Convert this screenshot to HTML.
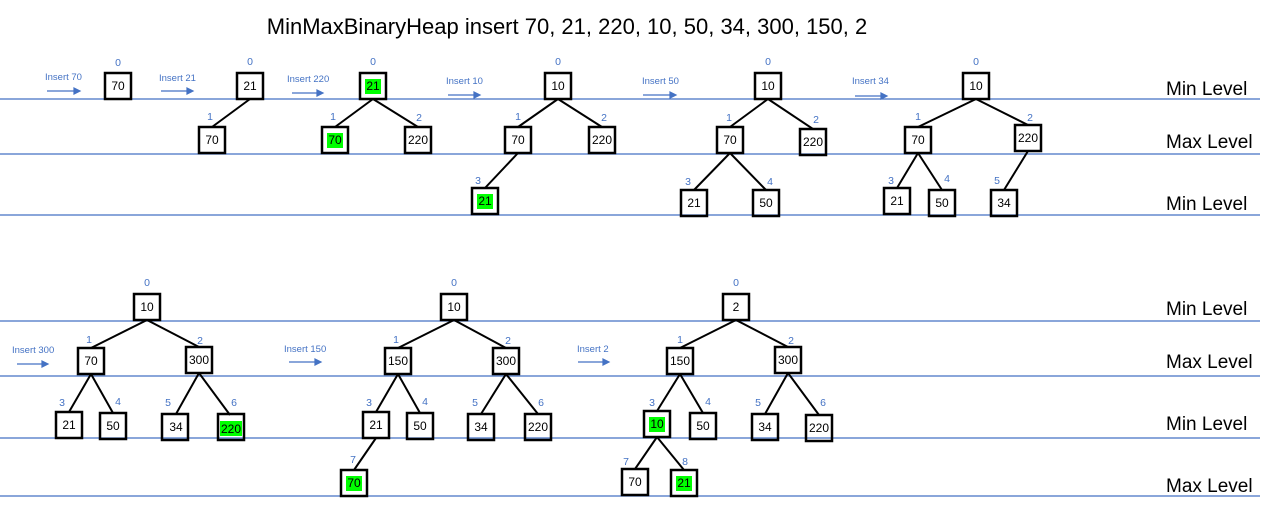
<!DOCTYPE html>
<html><head><style>body{margin:0;background:#fff}svg{display:block}</style></head><body>
<svg width="1273" height="520" xmlns="http://www.w3.org/2000/svg" font-family="Liberation Sans, sans-serif">
<rect width="1273" height="520" fill="#fff"/>
<text x="567" y="34" font-size="22" text-anchor="middle" fill="#000">MinMaxBinaryHeap insert 70, 21, 220, 10, 50, 34, 300, 150, 2</text>
<g stroke="#4472C4" stroke-width="1.2">
<line x1="0" y1="99" x2="1260" y2="99"/><line x1="0" y1="154" x2="1260" y2="154"/><line x1="0" y1="215" x2="1260" y2="215"/>
<line x1="0" y1="321" x2="1260" y2="321"/><line x1="0" y1="376" x2="1260" y2="376"/><line x1="0" y1="438" x2="1260" y2="438"/><line x1="0" y1="496" x2="1260" y2="496"/>
</g>
<g font-size="19" fill="#000">
<text x="1166" y="95">Min Level</text><text x="1166" y="148">Max Level</text><text x="1166" y="210">Min Level</text>
<text x="1166" y="315">Min Level</text><text x="1166" y="368">Max Level</text><text x="1166" y="430">Min Level</text><text x="1166" y="492">Max Level</text>
</g>
<!-- insert labels + arrows -->
<g font-size="9.5" fill="#4472C4">
<text x="45" y="80">Insert 70</text><text x="159" y="81">Insert 21</text><text x="287" y="82">Insert 220</text><text x="446" y="84">Insert 10</text><text x="642" y="84">Insert 50</text><text x="852" y="84">Insert 34</text>
<text x="12" y="353">Insert 300</text><text x="284" y="352">Insert 150</text><text x="577" y="352">Insert 2</text>
</g>
<g stroke="#4472C4" stroke-width="1.2" fill="#4472C4">
<line x1="47" y1="91" x2="74" y2="91"/><polygon points="74,88 80,91 74,94"/>
<line x1="161" y1="91" x2="187" y2="91"/><polygon points="187,88 193,91 187,94"/>
<line x1="292" y1="93" x2="317" y2="93"/><polygon points="317,90 323,93 317,96"/>
<line x1="448" y1="95" x2="474" y2="95"/><polygon points="474,92 480,95 474,98"/>
<line x1="643" y1="95" x2="670" y2="95"/><polygon points="670,92 676,95 670,98"/>
<line x1="855" y1="96" x2="881" y2="96"/><polygon points="881,93 887,96 881,99"/>
<line x1="17" y1="364" x2="42" y2="364"/><polygon points="42,361 48,364 42,367"/>
<line x1="289" y1="362" x2="315" y2="362"/><polygon points="315,359 321,362 315,365"/>
<line x1="578" y1="362" x2="603" y2="362"/><polygon points="603,359 609,362 603,365"/>
</g>
<!-- edges -->
<g stroke="#000" stroke-width="2">
<line x1="250" y1="99" x2="212" y2="127"/>
<line x1="373" y1="99" x2="335" y2="127"/><line x1="373" y1="99" x2="418" y2="127"/>
<line x1="558" y1="99" x2="518" y2="127"/><line x1="558" y1="99" x2="602" y2="127"/><line x1="518" y1="153" x2="485" y2="188"/>
<line x1="768" y1="99" x2="730" y2="127"/><line x1="768" y1="99" x2="813" y2="129"/><line x1="730" y1="153" x2="694" y2="190"/><line x1="730" y1="153" x2="766" y2="190"/>
<line x1="976" y1="99" x2="918" y2="127"/><line x1="976" y1="99" x2="1028" y2="125"/><line x1="918" y1="153" x2="897" y2="188"/><line x1="918" y1="153" x2="942" y2="190"/><line x1="1028" y1="151" x2="1004" y2="190"/>
<line x1="147" y1="320" x2="91" y2="348"/><line x1="147" y1="320" x2="199" y2="347"/><line x1="91" y1="374" x2="69" y2="412"/><line x1="91" y1="374" x2="113" y2="413"/><line x1="199" y1="373" x2="176" y2="414"/><line x1="199" y1="373" x2="230" y2="415"/>
<line x1="454" y1="320" x2="398" y2="348"/><line x1="454" y1="320" x2="506" y2="348"/><line x1="398" y1="374" x2="376" y2="412"/><line x1="398" y1="374" x2="420" y2="413"/><line x1="506" y1="374" x2="481" y2="414"/><line x1="506" y1="374" x2="538" y2="414"/><line x1="376" y1="438" x2="354" y2="470"/>
<line x1="736" y1="320" x2="680" y2="348"/><line x1="736" y1="320" x2="788" y2="347"/><line x1="680" y1="374" x2="657" y2="411"/><line x1="680" y1="374" x2="703" y2="413"/><line x1="788" y1="373" x2="765" y2="414"/><line x1="788" y1="373" x2="819" y2="415"/><line x1="657" y1="437" x2="635" y2="469"/><line x1="657" y1="437" x2="684" y2="470"/>
</g>
<!-- green highlights -->
<g fill="#00FF00">
<rect x="365" y="79" width="16" height="15"/><rect x="327" y="133" width="16" height="15"/><rect x="477" y="194" width="16" height="15"/>
<rect x="220" y="421" width="22" height="15"/><rect x="346" y="476" width="16" height="15"/><rect x="649" y="417" width="16" height="15"/><rect x="676" y="476" width="16" height="15"/>
</g>
<!-- nodes -->
<g fill="none" stroke="#000" stroke-width="2.5">
<rect x="105" y="73" width="26" height="26"/>
<rect x="237" y="73" width="26" height="26"/><rect x="199" y="127" width="26" height="26"/>
<rect x="360" y="73" width="26" height="26"/><rect x="322" y="127" width="26" height="26"/><rect x="405" y="127" width="26" height="26"/>
<rect x="545" y="73" width="26" height="26"/><rect x="505" y="127" width="26" height="26"/><rect x="589" y="127" width="26" height="26"/><rect x="472" y="188" width="26" height="26"/>
<rect x="755" y="73" width="26" height="26"/><rect x="717" y="127" width="26" height="26"/><rect x="800" y="129" width="26" height="26"/><rect x="681" y="190" width="26" height="26"/><rect x="753" y="190" width="26" height="26"/>
<rect x="963" y="73" width="26" height="26"/><rect x="905" y="127" width="26" height="26"/><rect x="1015" y="125" width="26" height="26"/><rect x="884" y="188" width="26" height="26"/><rect x="929" y="190" width="26" height="26"/><rect x="991" y="190" width="26" height="26"/>
<rect x="134" y="294" width="26" height="26"/><rect x="78" y="348" width="26" height="26"/><rect x="186" y="347" width="26" height="26"/><rect x="56" y="412" width="26" height="26"/><rect x="100" y="413" width="26" height="26"/><rect x="162" y="414" width="26" height="26"/><rect x="218" y="414" width="26" height="26"/>
<rect x="441" y="294" width="26" height="26"/><rect x="385" y="348" width="26" height="26"/><rect x="493" y="348" width="26" height="26"/><rect x="363" y="412" width="26" height="26"/><rect x="407" y="413" width="26" height="26"/><rect x="468" y="414" width="26" height="26"/><rect x="525" y="414" width="26" height="26"/><rect x="341" y="470" width="26" height="26"/>
<rect x="723" y="294" width="26" height="26"/><rect x="667" y="348" width="26" height="26"/><rect x="775" y="347" width="26" height="26"/><rect x="644" y="411" width="26" height="26"/><rect x="690" y="413" width="26" height="26"/><rect x="752" y="414" width="26" height="26"/><rect x="806" y="415" width="26" height="26"/><rect x="622" y="469" width="26" height="26"/><rect x="671" y="470" width="26" height="26"/>
</g>
<g font-size="12" fill="#000" text-anchor="middle">
<text x="118" y="90">70</text>
<text x="250" y="90">21</text><text x="212" y="144">70</text>
<text x="373" y="90">21</text><text x="335" y="144">70</text><text x="418" y="144">220</text>
<text x="558" y="90">10</text><text x="518" y="144">70</text><text x="602" y="144">220</text><text x="485" y="205">21</text>
<text x="768" y="90">10</text><text x="730" y="144">70</text><text x="813" y="146">220</text><text x="694" y="207">21</text><text x="766" y="207">50</text>
<text x="976" y="90">10</text><text x="918" y="144">70</text><text x="1028" y="142">220</text><text x="897" y="205">21</text><text x="942" y="207">50</text><text x="1004" y="207">34</text>
<text x="147" y="311">10</text><text x="91" y="365">70</text><text x="199" y="364">300</text><text x="69" y="429">21</text><text x="113" y="430">50</text><text x="176" y="431">34</text><text x="231" y="433">220</text>
<text x="454" y="311">10</text><text x="398" y="365">150</text><text x="506" y="365">300</text><text x="376" y="429">21</text><text x="420" y="430">50</text><text x="481" y="431">34</text><text x="538" y="431">220</text><text x="354" y="487">70</text>
<text x="736" y="311">2</text><text x="680" y="365">150</text><text x="788" y="364">300</text><text x="657" y="428">10</text><text x="703" y="430">50</text><text x="765" y="431">34</text><text x="819" y="432">220</text><text x="635" y="486">70</text><text x="684" y="487">21</text>
</g>
<g font-size="10.5" fill="#4472C4" text-anchor="middle">
<text x="118" y="66">0</text>
<text x="250" y="65">0</text><text x="210" y="120">1</text>
<text x="373" y="65">0</text><text x="333" y="120">1</text><text x="419" y="121">2</text>
<text x="558" y="65">0</text><text x="518" y="120">1</text><text x="604" y="121">2</text><text x="478" y="184">3</text>
<text x="768" y="65">0</text><text x="729" y="121">1</text><text x="816" y="123">2</text><text x="688" y="185">3</text><text x="770" y="185">4</text>
<text x="976" y="65">0</text><text x="918" y="120">1</text><text x="1030" y="121">2</text><text x="891" y="184">3</text><text x="947" y="182">4</text><text x="997" y="184">5</text>
<text x="147" y="286">0</text><text x="89" y="343">1</text><text x="200" y="344">2</text><text x="62" y="406">3</text><text x="118" y="405">4</text><text x="168" y="406">5</text><text x="234" y="406">6</text>
<text x="454" y="286">0</text><text x="396" y="343">1</text><text x="508" y="344">2</text><text x="369" y="406">3</text><text x="425" y="405">4</text><text x="475" y="406">5</text><text x="541" y="406">6</text><text x="353" y="463">7</text>
<text x="736" y="286">0</text><text x="680" y="343">1</text><text x="791" y="344">2</text><text x="652" y="406">3</text><text x="708" y="405">4</text><text x="758" y="406">5</text><text x="823" y="406">6</text><text x="626" y="465">7</text><text x="685" y="465">8</text>
</g>
</svg>
</body></html>
